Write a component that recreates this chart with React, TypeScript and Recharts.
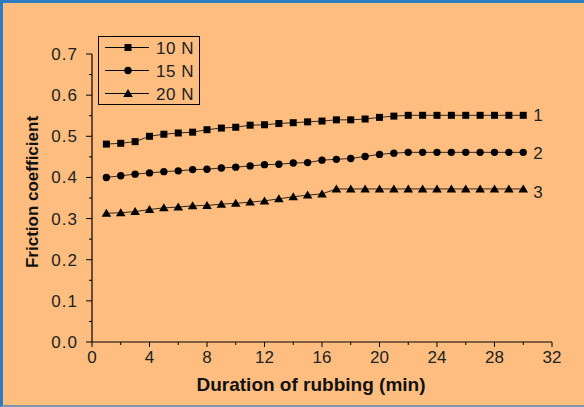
import { LineChart, Line, XAxis, YAxis, Legend, LabelList } from "recharts";

const minutes = [1, 2, 3, 4, 5, 6, 7, 8, 9, 10, 11, 12, 13, 14, 15, 16, 17, 18, 19, 20, 21, 22, 23, 24, 25, 26, 27, 28, 29, 30];
const load10N = [0.481, 0.483, 0.487, 0.5, 0.505, 0.508, 0.51, 0.516, 0.52, 0.522, 0.527, 0.528, 0.531, 0.533, 0.535, 0.537, 0.54, 0.54, 0.542, 0.546, 0.549, 0.551, 0.551, 0.551, 0.551, 0.551, 0.551, 0.551, 0.551, 0.551];
const load15N = [0.4, 0.404, 0.408, 0.411, 0.414, 0.416, 0.419, 0.42, 0.423, 0.425, 0.428, 0.431, 0.432, 0.435, 0.436, 0.442, 0.444, 0.446, 0.451, 0.456, 0.459, 0.461, 0.461, 0.461, 0.461, 0.461, 0.461, 0.461, 0.461, 0.461];
const load20N = [0.313, 0.314, 0.317, 0.322, 0.326, 0.328, 0.331, 0.332, 0.335, 0.337, 0.34, 0.343, 0.348, 0.353, 0.357, 0.36, 0.372, 0.372, 0.372, 0.372, 0.372, 0.372, 0.372, 0.372, 0.372, 0.372, 0.372, 0.372, 0.372, 0.372];

const seriesNames = ["10 N", "15 N", "20 N"];
const curveLabels = ["1", "2", "3"];
const xTicks = [0, 2, 4, 6, 8, 10, 12, 14, 16, 18, 20, 22, 24, 26, 28, 30, 32];
const yTicks = [0, 0.05, 0.1, 0.15, 0.2, 0.25, 0.3, 0.35, 0.4, 0.45, 0.5, 0.55, 0.6, 0.65, 0.7];

const data = minutes.map((m, i) => ({ t: m, a: load10N[i], b: load15N[i], c: load20N[i] }));

const FONT = "'Liberation Sans Narrow', 'Liberation Sans', Arial, sans-serif";
const BOLD_FONT = "'Liberation Sans', Arial, sans-serif";
const TICK_SIZE = 5;
const TICK_MARGIN = 4;

function Marker({ kind, cx, cy }: { kind: string; cx: number; cy: number }) {
  if (kind === "square") return <rect x={cx - 3.5} y={cy - 3.5} width={7} height={7} fill="#000" />;
  if (kind === "circle") return <circle cx={cx} cy={cy} r={3.7} fill="#000" />;
  return <path d={`M${cx},${cy - 4.5} L${cx + 4.8},${cy + 3.5} L${cx - 4.8},${cy + 3.5} Z`} fill="#000" />;
}

const series = [
  { key: "a", name: seriesNames[0], marker: "square", label: curveLabels[0], dy: 0 },
  { key: "b", name: seriesNames[1], marker: "circle", label: curveLabels[1], dy: 1 },
  { key: "c", name: seriesNames[2], marker: "triangle", label: curveLabels[2], dy: 3 },
];

function XTick(props: any) {
  const { x, y, payload } = props;
  const axisY = y - TICK_SIZE - TICK_MARGIN;
  const major = payload.value % 4 === 0;
  return (
    <g>
      <line x1={x} x2={x} y1={axisY} y2={axisY + (major ? 5 : 3)} stroke="#000" />
      {major && (
        <text x={x} y={axisY + 21} textAnchor="middle" fontFamily={FONT} fontSize={17} fill="#222">
          {payload.value}
        </text>
      )}
    </g>
  );
}

function YTick(props: any) {
  const { x, y, payload } = props;
  const axisX = x + TICK_SIZE + 9;
  const major = Math.round(payload.value * 100) % 10 === 0;
  return (
    <g>
      <line x1={axisX} x2={axisX - (major ? 6 : 3)} y1={y} y2={y} stroke="#000" />
      {major && (
        <text x={axisX - 14} y={y + 6} textAnchor="end" fontFamily={FONT} fontSize={17} fill="#222" letterSpacing={1}>
          {payload.value.toFixed(1)}
        </text>
      )}
    </g>
  );
}

function LegendBox() {
  return (
    <svg width={103} height={70} style={{ display: "block" }}>
      <rect x={0.5} y={0.5} width={101} height={68} fill="none" stroke="#000" />
      {series.map((s, i) => {
        const cy = 11.5 + i * 23;
        return (
          <g key={s.key}>
            <line x1={7} x2={51} y1={cy} y2={cy} stroke="#000" />
            <Marker kind={s.marker} cx={30} cy={cy} />
            <text x={58} y={cy + 6} fontFamily={BOLD_FONT} fontSize={17} fill="#222" letterSpacing={0.5}>
              {s.name}
            </text>
          </g>
        );
      })}
    </svg>
  );
}

export default function App() {
  return (
    <div
      style={{
        position: "absolute",
        left: 0,
        top: 0,
        width: 584,
        height: 407,
        boxSizing: "border-box",
        background: "#FFBE80",
        borderTop: "3px solid #2B7CC2",
        borderLeft: "3px solid #2B7CC2",
        borderBottom: "2px solid #8197A8",
      }}
    >
      <div style={{ position: "absolute", left: -3, top: -3 }}>
        <LineChart width={584} height={407} data={data} margin={{ top: 54, right: 32, bottom: 15, left: 22 }}>
          <XAxis
            dataKey="t"
            type="number"
            domain={[0, 32]}
            ticks={xTicks}
            interval={0}
            height={50}
            tickSize={TICK_SIZE}
            tickMargin={TICK_MARGIN}
            tickLine={false}
            tick={<XTick />}
            axisLine={{ stroke: "#000", strokeWidth: 1.2 }}
            label={{
              content: () => (
                <text x={311} y={391} textAnchor="middle" fontFamily={BOLD_FONT} fontWeight="bold" fontSize={19} fill="#111">
                  Duration of rubbing (min)
                </text>
              ),
            }}
          />
          <YAxis
            type="number"
            domain={[0, 0.7]}
            ticks={yTicks}
            interval={0}
            width={70}
            tickSize={TICK_SIZE}
            tickMargin={9}
            tickLine={false}
            tick={<YTick />}
            axisLine={{ stroke: "#000", strokeWidth: 1.2 }}
            label={{
              content: () => (
                <text
                  x={38}
                  y={192}
                  transform="rotate(-90 38 192)"
                  textAnchor="middle"
                  fontFamily={BOLD_FONT}
                  fontWeight="bold"
                  fontSize={17}
                  fill="#111"
                >
                  Friction coefficient
                </text>
              ),
            }}
          />
          <Legend
            layout="vertical"
            align="center"
            verticalAlign="middle"
            wrapperStyle={{ position: "absolute", left: 98, top: 36, width: 103, height: 70 }}
            content={() => <LegendBox />}
          />
          {series.map((s) => (
            <Line
              key={s.key}
              dataKey={s.key}
              name={s.name}
              type="linear"
              stroke="#000"
              strokeWidth={0.8}
              isAnimationActive={false}
              dot={(p: any) => <Marker key={`${s.key}-${p.index}`} kind={s.marker} cx={p.cx} cy={p.cy} />}
              activeDot={false}
            >
              <LabelList
                dataKey={s.key}
                content={(p: any) =>
                  p.index === minutes.length - 1 ? (
                    <text x={p.x + 10} y={p.y + 6 + s.dy} fontFamily={FONT} fontSize={17} fill="#222">
                      {s.label}
                    </text>
                  ) : null
                }
              />
            </Line>
          ))}
        </LineChart>
      </div>
    </div>
  );
}
